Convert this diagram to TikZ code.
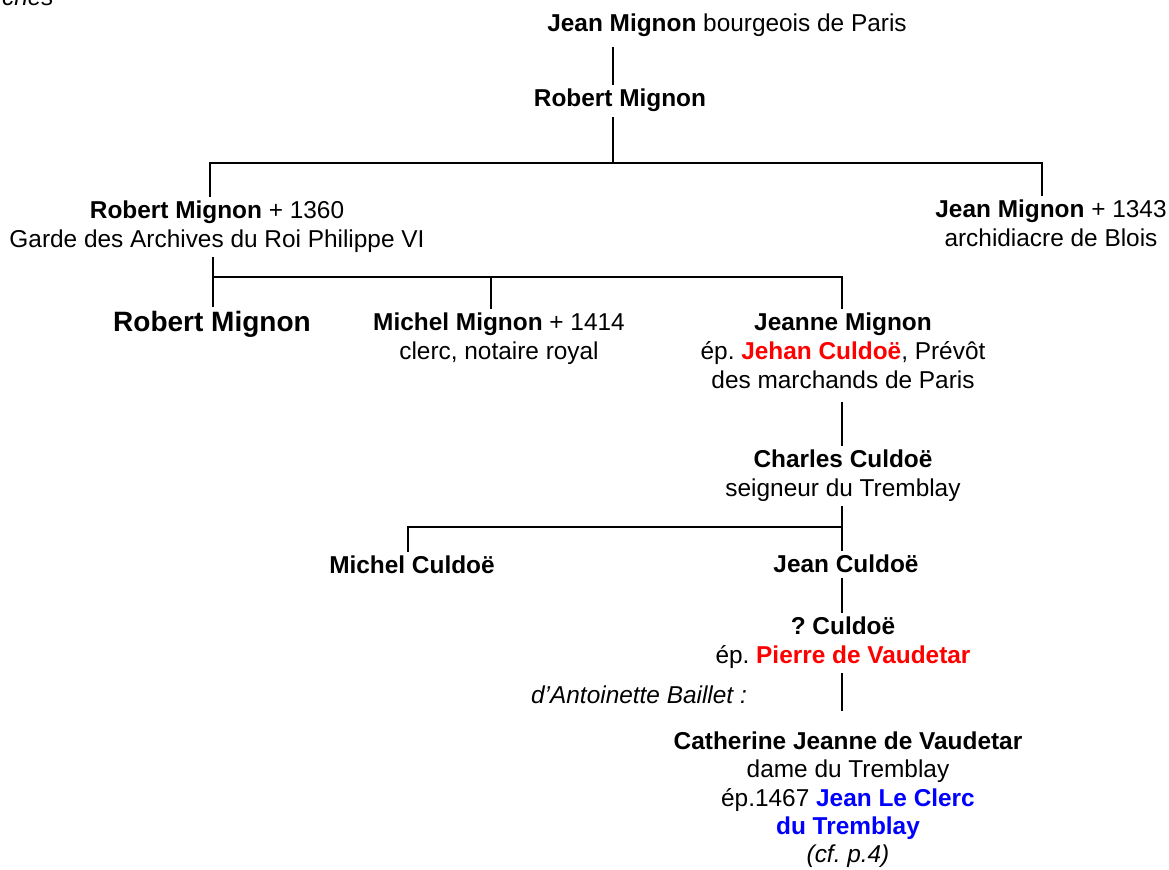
\documentclass[tikz,border=0pt]{standalone}
\usepackage{fontspec}
\setmainfont{Liberation Sans}
\usetikzlibrary{positioning}
\frenchspacing

\begin{document}
\begin{tikzpicture}[x=0.5pt,y=-0.5pt,line width=1.4pt,
  person/.style = {align=center, anchor=base, inner sep=1.5pt, font=\fontsize{12.2}{14.5}\selectfont}]
\useasboundingbox (0,0) rectangle (1169,870);
    % base of a node with several lines is its last line
    \node[person,anchor=base east,font=\fontsize{12.2}{14.5}\selectfont\itshape] (0) at (58,6) {iches};
    \node[person] (1) at (727,32) {\textbf{Jean Mignon} bourgeois de Paris};
    \node[person] (2) at (620,107) {\textbf{Robert Mignon}};
    \node[person] (3) at (217,248) {\textbf{Robert Mignon} + 1360\\Garde des Archives du Roi Philippe VI};
    \node[person] (4) at (1051,247) {\textbf{Jean Mignon} + 1343\\archidiacre de Blois};
    \node[person,font=\fontsize{14}{17}\selectfont\bfseries] (5) at (212,332) {Robert Mignon};
    \node[person] (6) at (499,360) {\textbf{Michel Mignon} + 1414\\clerc, notaire royal};
    \node[person] (7) at (843,389) {\textbf{Jeanne Mignon}\\ép. \textcolor{red}{\textbf{Jehan Culdoë}}, Prévôt\\des marchands de Paris};
    \node[person] (8) at (843,497) {\textbf{Charles Culdoë}\\seigneur du Tremblay};
    \node[person] (9) at (412,574) {\textbf{Michel Culdoë}};
    \node[person] (10) at (846,573) {\textbf{Jean Culdoë}};
    \node[person] (11) at (843,664) {\textbf{? Culdoë}\\ép. \textcolor{red}{\textbf{Pierre de Vaudetar}}};
    \node[person,font=\fontsize{12.2}{14.5}\selectfont\itshape] (13) at (639,704) {d’Antoinette Baillet :};
    \node[person,font=\fontsize{12.2}{14.2}\selectfont] (12) at (848,863) {\textbf{Catherine Jeanne de Vaudetar}\\dame du Tremblay\\ép.1467 \textcolor{blue}{\textbf{Jean Le Clerc}}\\\textcolor{blue}{\textbf{du Tremblay}}\\\textit{(cf. p.4)}};
    % junctions
    \coordinate (b1) at (613,163);
    \coordinate (b2) at (213,277);
    \coordinate (b3) at (842,527);
    \draw[shorten <=2.5pt] (1.south -| b1) -- (2.north -| b1);
    \draw (2.south -| b1) -- (b1);
    \draw ([xshift=-3.5pt]3.north) |- (b1) -| ([xshift=-4.5pt]4.north);
    \draw (3.south -| b2) -- (5.north -| b2);
    \draw (b2) -| ([xshift=-4pt]6.north);
    \draw (b2) -| ([xshift=-0.5pt]7.north);
    \draw[shorten <=4pt] (7.south -| b3) -- (8.north -| b3);
    \draw (8.south -| b3) -- (b3);
    \draw (b3) -| ([xshift=-2pt]9.north);
    \draw (b3) -- (10.north -| b3);
    \draw (10.south -| b3) -- (11.north -| b3);
    \draw[shorten >=8pt] (11.south -| b3) -- (12.north -| b3);
\end{tikzpicture}
\end{document}
